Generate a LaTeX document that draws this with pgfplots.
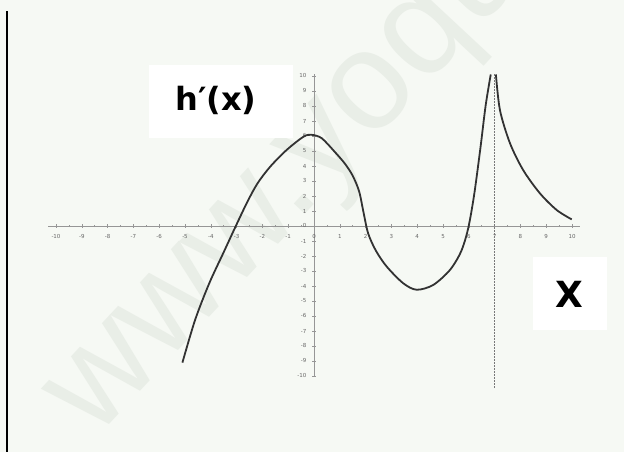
\documentclass[border=0pt]{standalone}
\usepackage{pgfplots}
\pgfplotsset{compat=1.18}
\usepackage{fontspec}
\setmainfont{DejaVu Sans}
\newfontfamily\wmfont{Liberation Sans}
\definecolor{bg}{RGB}{246,249,244}
\definecolor{wm}{RGB}{233,238,231}
\definecolor{axg}{RGB}{150,150,150}
\definecolor{curve}{RGB}{50,50,50}
\begin{document}
\begin{tikzpicture}[x=1pt,y=1pt]
\fill[bg] (0,0) rectangle (624,452);
\path[use as bounding box] (0,0) rectangle (624,452);
\node[anchor=base west, rotate=47, text=wm, font=\wmfont\fontsize{140}{140}\selectfont, inner sep=0pt] at (95,12) {www.yoqu};
\draw[black, line width=1.5pt] (7,0) -- (7,441);
\begin{axis}[
  at={(314pt,226pt)}, anchor=origin,
  scale only axis,
  width=531.5pt, height=302.25pt,
  xmin=-10.3, xmax=10.3, ymin=-10.05, ymax=10.1,
  axis lines=center,
  axis line style={-, axg, line width=0.6pt},
  xtick={-10,...,10}, ytick={-10,...,10},
  minor x tick num=1,
  hide obscured x ticks=false, hide obscured y ticks=false,
  tick style={axg, line width=0.5pt},
  major tick length=4pt, minor tick length=2.5pt,
  tick align=center,
  tick label style={font=\fontsize{5.5}{6}\selectfont, text=black!60},
  /pgf/number format/assume math mode=true,
  xticklabel style={yshift=-3pt},
  yticklabel style={xshift=-2pt},
  clip=false,
]
\addplot[smooth, curve, line width=1.8pt] coordinates {
(-5.10,-9.11) (-4.61,-6.27) (-4.06,-3.82) (-3.52,-1.82) (-3.03,0) (-2.58,1.62)
(-2.19,2.84) (-1.70,3.95) (-1.06,5.07) (-0.41,5.95) (-0.1,6.08) (0.3,5.85)
(0.8,4.95) (1.2,4.15) (1.5,3.35) (1.75,2.3) (1.92,0.9) (2.1,-0.5) (2.4,-1.65)
(2.82,-2.71) (3.46,-3.82) (3.98,-4.25) (4.62,-3.93) (5.27,-2.93) (5.7,-1.7)
(5.97,-0.2) (6.2,2.0) (6.45,5.2) (6.65,8.0) (6.85,10.1)
};
\addplot[smooth, curve, line width=1.8pt] coordinates {
(7.05,10.1) (7.21,7.7) (7.6,5.5) (8.11,3.72) (8.76,2.17) (9.41,1.06) (9.99,0.44)
};
\draw[axg!80!black, line width=0.7pt, dash pattern=on 2pt off 1pt] (axis cs:7,10.1) -- (axis cs:7,-10.8);
\end{axis}
\fill[white] (149,314) rectangle (293,387);
\node[font=\fontsize{32}{34}\selectfont\bfseries] at (216,352) {h′(x)};
\fill[white] (533,122) rectangle (607,195);
\node[font=\fontsize{36}{38}\selectfont\bfseries] at (569,158) {X};
\end{tikzpicture}
\end{document}
